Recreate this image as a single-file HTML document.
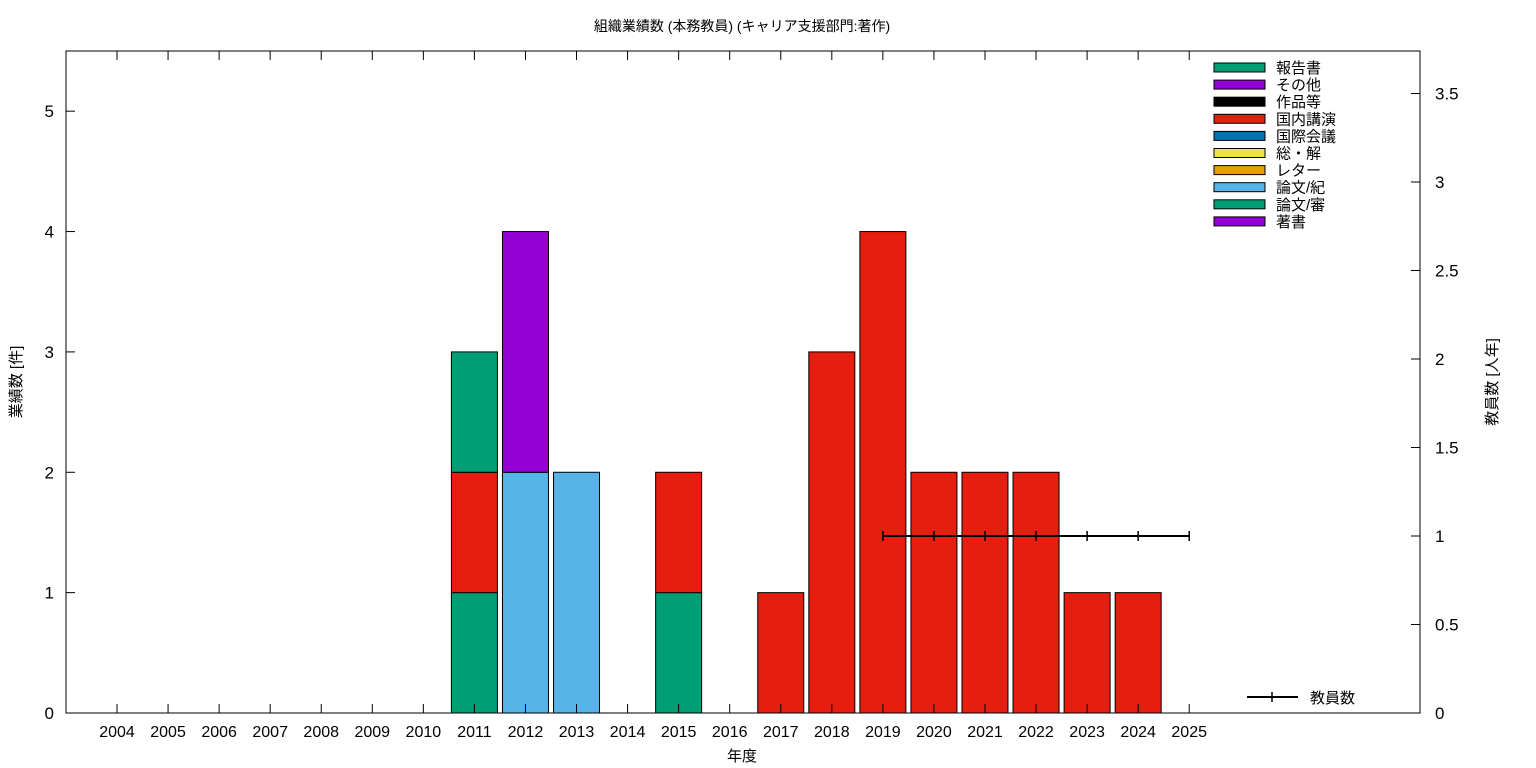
<!DOCTYPE html>
<html><head><meta charset="utf-8"><style>
body{margin:0;background:#fff}
svg{display:block;font-family:"Liberation Sans","Noto Sans CJK JP",sans-serif}
</style></head><body>
<svg id="chart" width="1536" height="768" xmlns="http://www.w3.org/2000/svg">
<text x="742" y="31" font-size="14" text-anchor="middle">組織業績数 (本務教員) (キャリア支援部門:著作)</text>
<text x="742" y="761" font-size="15" text-anchor="middle">年度</text>
<text transform="translate(21,382) rotate(-90)" font-size="15" text-anchor="middle">業績数 [件]</text>
<text transform="translate(1497,382) rotate(-90)" font-size="15" text-anchor="middle">教員数 [人年]</text>
<g id="bars"></g>
<g id="axes"></g>
<g id="legend"></g>
</svg>
<script>
const years=["2004","2005","2006","2007","2008","2009","2010","2011","2012","2013","2014","2015","2016","2017","2018","2019","2020","2021","2022","2023","2024","2025"];
const seriesNames=["著書","論文/審","論文/紀","レター","総・解","国際会議","国内講演","作品等","その他","報告書"];
const seriesColors=["#9400d3","#009e73","#56b4e9","#e69f00","#f0e442","#0072b2","#e51e10","#000000","#9400d3","#009e73"];
const choshoVals=[0,0,0,0,0,0,0,0,0,0,0,0,0,0,0,0,0,0,0,0,0,0];
const ronbunShinVals=[0,0,0,0,0,0,0,1,0,0,0,1,0,0,0,0,0,0,0,0,0,0];
const ronbunKiVals=[0,0,0,0,0,0,0,0,2,2,0,0,0,0,0,0,0,0,0,0,0,0];
const letterVals=[0,0,0,0,0,0,0,0,0,0,0,0,0,0,0,0,0,0,0,0,0,0];
const soukaiVals=[0,0,0,0,0,0,0,0,0,0,0,0,0,0,0,0,0,0,0,0,0,0];
const kokusaiVals=[0,0,0,0,0,0,0,0,0,0,0,0,0,0,0,0,0,0,0,0,0,0];
const kokunaiVals=[0,0,0,0,0,0,0,1,0,0,0,1,0,1,3,4,2,2,2,1,1,0];
const sakuhinVals=[0,0,0,0,0,0,0,0,0,0,0,0,0,0,0,0,0,0,0,0,0,0];
const sonotaVals=[0,0,0,0,0,0,0,0,2,0,0,0,0,0,0,0,0,0,0,0,0,0];
const houkokuVals=[0,0,0,0,0,0,0,1,0,0,0,0,0,0,0,0,0,0,0,0,0,0];
const facultyYears=["2019","2020","2021","2022","2023","2024","2025"];
const facultyVals=[1,1,1,1,1,1,1];
const yTicks=[0,1,2,3,4,5];
const y2Ticks=[0,0.5,1,1.5,2,2.5,3,3.5];
const series=[choshoVals,ronbunShinVals,ronbunKiVals,letterVals,soukaiVals,kokusaiVals,kokunaiVals,sakuhinVals,sonotaVals,houkokuVals];

const L=66,R=1420,T=51,B=713;
const yMax=5.5,y2Max=(B-T)/177;
const xs=i=>117+(R-117)/25.52*i;
const ys=v=>B-(B-T)*v/yMax;
const y2s=v=>B-(B-T)*v/y2Max;
const NS="http://www.w3.org/2000/svg";
function mk(tag,attrs,parent,txt){const e=document.createElementNS(NS,tag);for(const k in attrs)e.setAttribute(k,attrs[k]);if(txt!==undefined)e.textContent=txt;parent.appendChild(e);return e;}
const bars=document.getElementById('bars'),axes=document.getElementById('axes'),leg=document.getElementById('legend');
const bw=46;
years.forEach((y,i)=>{let acc=0;series.forEach((s,k)=>{const v=s[i];if(!v)return;
 const r=mk('rect',{x:xs(i)-bw/2,y:ys(acc+v),width:bw,height:ys(acc)-ys(acc+v),fill:seriesColors[k],stroke:'#000','stroke-width':1},bars);
 
 
 acc+=v;});});
// frame
const fr=mk('rect',{x:L,y:T,width:R-L,height:B-T,fill:'none',stroke:'#000','stroke-width':1},axes);


yTicks.forEach(v=>{mk('line',{x1:L,x2:L+9,y1:ys(v),y2:ys(v),stroke:'#000'},axes);
 const t=mk('text',{x:L-12,y:ys(v)+6,'font-size':17,'text-anchor':'end'},axes,String(v));
 
 });
y2Ticks.forEach(v=>{mk('line',{x1:R-9,x2:R,y1:y2s(v),y2:y2s(v),stroke:'#000'},axes);
 const t=mk('text',{x:R+15,y:y2s(v)+6,'font-size':17},axes,String(v));
 
 });
years.forEach((y,i)=>{mk('line',{x1:xs(i),x2:xs(i),y1:B,y2:B-9,stroke:'#000'},axes);
 mk('line',{x1:xs(i),x2:xs(i),y1:T,y2:T+9,stroke:'#000'},axes);
 const t=mk('text',{x:xs(i),y:737,'font-size':16,'text-anchor':'middle'},axes,y);
 
 });
// faculty line
const fpts=facultyYears.map((y,j)=>[xs(years.indexOf(y)),y2s(facultyVals[j])]);
const pl=mk('polyline',{points:fpts.map(p=>p.join(',')).join(' '),fill:'none',stroke:'#000','stroke-width':2},axes);


fpts.forEach(p=>{mk('line',{x1:p[0],x2:p[0],y1:p[1]-5,y2:p[1]+5,stroke:'#000','stroke-width':1.5},axes);});
// legend
const legOrder=[9,8,7,6,5,4,3,2,1,0];
legOrder.forEach((k,r)=>{const y=67+r*17.1;
 const g=mk('g',{},leg);
 
 
 mk('rect',{x:1214,y:y-4,width:51,height:9,fill:seriesColors[k],stroke:'#000'},g);
 mk('text',{x:1276,y:y+6,'font-size':15},g,seriesNames[k]);});
const g2=mk('g',{},leg);


mk('line',{x1:1247,x2:1298,y1:697,y2:697,stroke:'#000','stroke-width':2},g2);
mk('line',{x1:1272,x2:1272,y1:692,y2:702,stroke:'#000','stroke-width':1.5},g2);
mk('text',{x:1310,y:703,'font-size':15},g2,'教員数');
</script>
</body></html>
